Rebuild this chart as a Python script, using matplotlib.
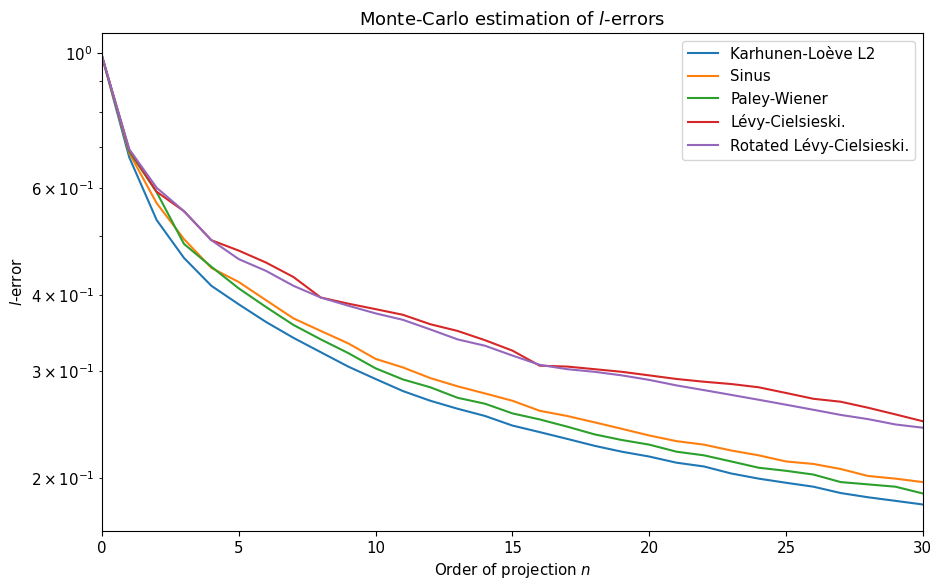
import matplotlib
matplotlib.use('Agg')
import matplotlib.pyplot as plt
import numpy as np

n = np.arange(31)

karhunen = [0.988, 0.673, 0.531, 0.460, 0.414, 0.386, 0.361, 0.340, 0.322, 0.305, 0.291,
            0.278, 0.268, 0.260, 0.253, 0.244, 0.238, 0.232, 0.226, 0.221, 0.217,
            0.212, 0.209, 0.2035, 0.1996, 0.1965, 0.1936, 0.189, 0.186, 0.1835, 0.181]
sinus = [0.988, 0.684, 0.566, 0.494, 0.443, 0.420, 0.392, 0.366, 0.349, 0.333, 0.314,
         0.304, 0.292, 0.283, 0.2755, 0.268, 0.258, 0.253, 0.247, 0.241, 0.235,
         0.230, 0.227, 0.222, 0.218, 0.213, 0.211, 0.207, 0.2016, 0.1996, 0.197]
paley = [0.988, 0.688, 0.590, 0.485, 0.445, 0.410, 0.382, 0.357, 0.338, 0.321, 0.303,
         0.2905, 0.282, 0.271, 0.265, 0.2555, 0.2497, 0.243, 0.236, 0.231, 0.227,
         0.221, 0.218, 0.213, 0.208, 0.2056, 0.2027, 0.197, 0.1953, 0.1936, 0.1887]
levy = [0.988, 0.692, 0.591, 0.549, 0.492, 0.473, 0.452, 0.428, 0.396, 0.387, 0.379,
        0.371, 0.358, 0.349, 0.337, 0.324, 0.306, 0.305, 0.302, 0.299, 0.295,
        0.291, 0.288, 0.2855, 0.282, 0.276, 0.270, 0.267, 0.261, 0.2545, 0.248]
rotated = [0.988, 0.694, 0.600, 0.549, 0.492, 0.458, 0.438, 0.414, 0.396, 0.384, 0.373,
           0.364, 0.351, 0.338, 0.330, 0.318, 0.307, 0.302, 0.299, 0.295, 0.290,
           0.284, 0.279, 0.274, 0.269, 0.264, 0.259, 0.254, 0.250, 0.245, 0.242]

labels = ['Karhunen-Loève L2', 'Sinus', 'Paley-Wiener', 'Lévy-Cielsieski.',
          'Rotated Lévy-Cielsieski.']

plt.rcParams['font.size'] = 10.8

fig = plt.figure(figsize=(9.35, 5.81), dpi=100)
ax = fig.add_subplot(111)
fig.subplots_adjust(left=0.109, right=0.987, bottom=0.086, top=0.943)

for y, lab in zip([karhunen, sinus, paley, levy, rotated], labels):
    ax.plot(n, y, label=lab)

ax.set_yscale('log')
ax.set_xlim(0, 30)
ax.set_ylim(0.1637, 1.077)
ax.set_title('Monte-Carlo estimation of $l$-errors')
ax.set_xlabel('Order of projection $n$')
ax.set_ylabel('$l$-error')
ax.legend(loc='upper right')

fig.savefig('out.png', dpi=100)
